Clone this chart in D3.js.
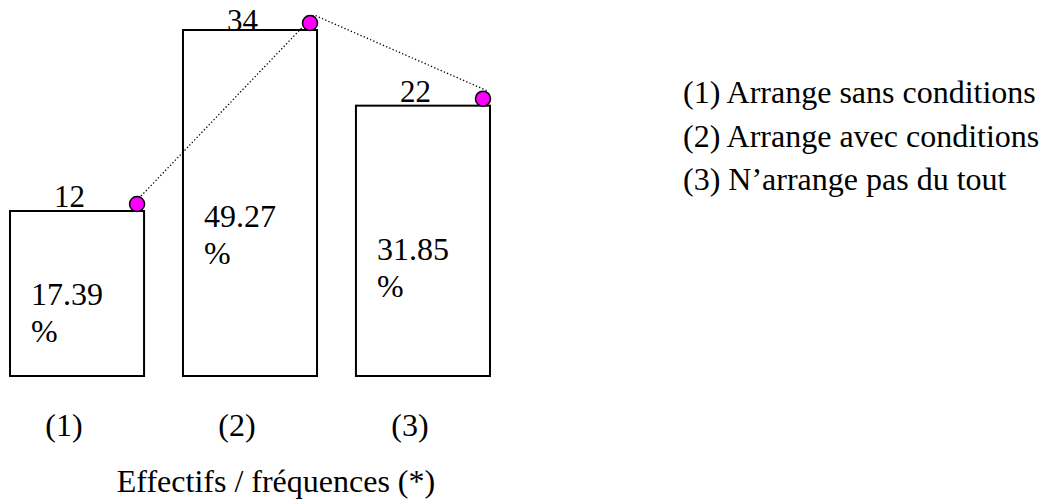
<!DOCTYPE html>
<html>
<head>
<meta charset="utf-8">
<script src="https://cdn.jsdelivr.net/npm/d3@7"></script>
<style>
  html, body { margin: 0; padding: 0; background: #fff; }
  svg text { font-family: "Liberation Serif", "Times New Roman", serif; fill: #000; }
</style>
</head>
<body>
<div id="chart"></div>
<script>
const categories = ["(1)", "(2)", "(3)"];
const effectifs = [12, 34, 22];
const frequences = [17.39, 49.27, 31.85];
const legendLabels = [
    "(1) Arrange sans conditions",
    "(2) Arrange avec conditions",
    "(3) N\u2019arrange pas du tout"
];
const titre = "Effectifs / fréquences (*)";

const W = 1049, H = 502;
const baseY = 376;
const serif = "'Liberation Serif', 'Times New Roman', serif";

const svg = d3.select("#chart").append("svg")
    .attr("width", W)
    .attr("height", H);

const x = d3.scaleBand().domain(categories).range([10, 490]).paddingInner(0.225).paddingOuter(0);
// le dessin d'origine n'est pas proportionnel : une échelle log s'en approche le mieux
const y = d3.scaleLog().domain([12, 34]).range([211, 30]);

const data = categories.map((c, i) => ({ cat: c, n: effectifs[i], pct: frequences[i] }));

const g = svg.append("g");

g.selectAll("rect.bar")
    .data(data)
    .join("rect")
    .attr("class", "bar")
    .attr("x", d => x(d.cat))
    .attr("y", d => y(d.n))
    .attr("width", x.bandwidth())
    .attr("height", d => baseY - y(d.n))
    .attr("fill", "#fff")
    .attr("stroke", "#000")
    .attr("stroke-width", 2);

// effectifs au-dessus des barres (on garde le texte dans le cadre)
g.selectAll("text.count")
    .data(data)
    .join("text")
    .attr("class", "count")
    .attr("x", d => x(d.cat) + 44)
    .attr("y", d => Math.max(y(d.n) - 4, 31))
    .attr("font-family", serif)
    .style("font-size", "31px")
    .text(d => d.n);

// fréquences dans les barres
const pctText = g.selectAll("text.pct")
    .data(data)
    .join("text")
    .attr("class", "pct")
    .attr("font-family", serif)
    .style("font-size", "32px")
    .attr("x", d => x(d.cat) + 21)
    .attr("y", d => baseY - 0.43 * (baseY - y(d.n)));
pctText.append("tspan").text(d => d.pct.toFixed(2));
pctText.append("tspan")
    .attr("x", d => x(d.cat) + 21)
    .attr("dy", 37)
    .text("%");

// ligne pointillée reliant les coins
const pts = data.map(d => [x(d.cat) + x.bandwidth() - 3, y(d.n) - 15]);
g.append("path")
    .attr("d", d3.line()(pts))
    .attr("fill", "none")
    .attr("stroke", "#000")
    .attr("stroke-width", 1.3)
    .attr("stroke-dasharray", "1.3,2.2");

g.selectAll("circle.dot")
    .data(data)
    .join("circle")
    .attr("class", "dot")
    .attr("cx", d => x(d.cat) + x.bandwidth() - 7)
    .attr("cy", d => y(d.n) - 7)
    .attr("r", 7.5)
    .attr("fill", "#ff00ff")
    .attr("stroke", "#000")
    .attr("stroke-width", 1.5);

// étiquettes des catégories
g.selectAll("text.cat")
    .data(data)
    .join("text")
    .attr("class", "cat")
    .attr("x", d => x(d.cat) + x.bandwidth() / 2 - 13)
    .attr("y", 436)
    .attr("text-anchor", "middle")
    .attr("font-family", serif)
    .style("font-size", "32px")
    .text(d => d.cat);

svg.append("text")
    .attr("x", 276)
    .attr("y", 492)
    .attr("text-anchor", "middle")
    .attr("font-family", serif)
    .style("font-size", "32px")
    .text(titre);

// légende
svg.append("g").selectAll("text")
    .data(legendLabels)
    .join("text")
    .attr("x", 683)
    .attr("y", (d, i) => 103 + i * 43.5)
    .attr("font-family", serif)
    .style("font-size", "32px")
    .text(d => d);
</script>
</body>
</html>
